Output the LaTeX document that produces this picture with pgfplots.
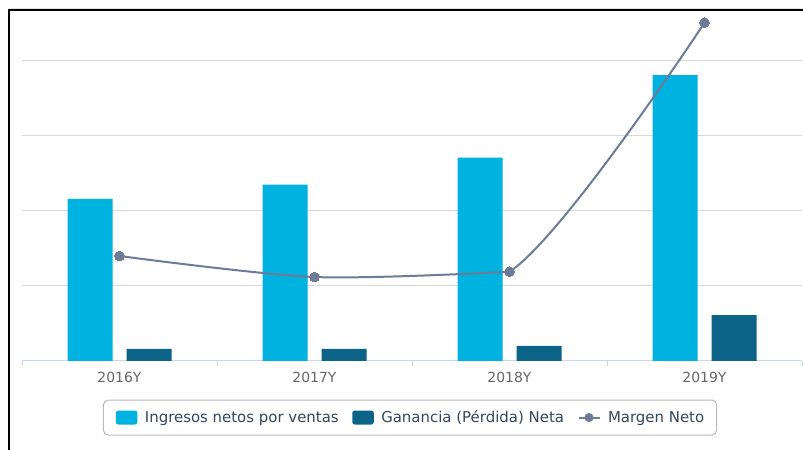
\documentclass[border=0pt]{standalone}
\usepackage{pgfplots}
\pgfplotsset{compat=1.18}
\usepackage{fontspec}
\setmainfont{DejaVu Sans}
\definecolor{cIng}{HTML}{00B2E0}
\definecolor{cGan}{HTML}{0B6388}
\definecolor{cLine}{HTML}{6D7B97}
\definecolor{cGrid}{HTML}{D8D8D8}
\definecolor{cAxis}{HTML}{CCD6EB}
\definecolor{cTick}{HTML}{666666}
\definecolor{cLeg}{HTML}{34465F}
\begin{document}
\begin{tikzpicture}
\useasboundingbox (0,0) rectangle (803bp,450bp);
\fill[white] (0,0) rectangle (803bp,450bp);
\draw[cGrid!70, line width=0.8bp] (9bp,441.5bp) -- (803bp,441.5bp);
\draw[black, line width=2bp] (9bp,0) -- (9bp,440bp) -- (803bp,440bp);
\begin{axis}[
  at={(22bp,89bp)}, anchor=south west,
  scale only axis, width=780bp, height=351bp,
  xmin=-0.5, xmax=3.5, ymin=0, ymax=4.68,
  axis x line*=bottom, axis y line*=left,
  y axis line style={draw=none},
  x axis line style={draw=cAxis, line width=1bp},
  xtick={0,1,2,3}, xticklabels={2016Y,2017Y,2018Y,2019Y},
  major x tick style={draw=none},
  minor xtick={-0.5,0.5,1.5,2.5,3.5},
  minor tick length=5bp,
  minor x tick style={draw=cAxis, line width=1bp},
  tick align=outside,
  xticklabel style={font=\fontsize{14}{16}\selectfont, text=cTick, yshift=-3bp},
  ytick={1,2,3,4}, yticklabels={},
  major y tick style={draw=none},
  ymajorgrids, major grid style={draw=cGrid, line width=1bp},
  legend style={at={(0.4975,-0.161)}, anchor=center, draw=gray!55, line width=1bp,
    rounded corners=5bp, font=\fontsize{15}{17}\selectfont, text=cLeg,
    inner xsep=12.5bp, inner ysep=10.5bp,
    nodes={inner sep=0bp},
    /tikz/every odd column/.append style={column sep=7.5bp},
    /tikz/every even column/.append style={column sep=13.5bp}},
  legend columns=3,
  clip=false,
]
\addplot[ybar, bar width=45bp, bar shift=-29.5bp, fill=cIng, draw=none,
  legend image code/.code={\fill[cIng, rounded corners=2.5bp] (0bp,-7bp) rectangle (21.5bp,7bp);}]
  coordinates {(0,2.16) (1,2.35) (2,2.71) (3,3.81)};
\addlegendentry{Ingresos netos por ventas}
\addplot[ybar, bar width=45bp, bar shift=29.5bp, fill=cGan, draw=none,
  legend image code/.code={\fill[cGan, rounded corners=2.5bp] (0bp,-7bp) rectangle (21.5bp,7bp);}]
  coordinates {(0,0.16) (1,0.16) (2,0.20) (3,0.61)};
\addlegendentry{Ganancia (Pérdida) Neta}
\addplot[cLine, line width=2bp, smooth, forget plot]
  coordinates {(0,1.40) (1,1.12) (2,1.19)};
\begin{scope}
\clip (axis cs:2,0) rectangle (axis cs:3.5,4.68);
\addplot[cLine, line width=2bp, smooth, forget plot]
  coordinates {(1,1.12) (2,1.19) (3,4.51)};
\end{scope}
\addplot[cLine, only marks, mark=*, mark size=4.8bp,
  mark options={fill=cLine, draw=cLine, line width=0bp},
  legend image code/.code={\draw[cLine, line width=2bp] (0bp,0) -- (21bp,0); \fill[cLine] (10.5bp,0) circle (4bp);}]
  coordinates {(0,1.40) (1,1.12) (2,1.19) (3,4.51)};
\addlegendentry{Margen Neto}
\end{axis}
\end{tikzpicture}
\end{document}
